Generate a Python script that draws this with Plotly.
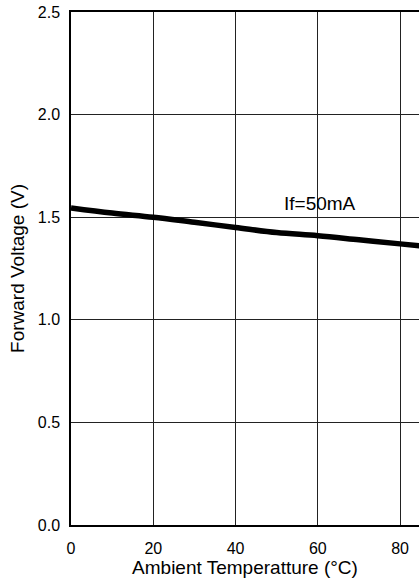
import plotly.graph_objects as go

temps = [0, 10, 20, 30, 40, 50, 60, 70, 80, 85]
vf = [1.545, 1.52, 1.50, 1.475, 1.45, 1.425, 1.41, 1.39, 1.37, 1.36]
x_ticks = [0, 20, 40, 60, 80]
y_ticks = [0.0, 0.5, 1.0, 1.5, 2.0, 2.5]
label_text = "If=50mA"

FONT = "Liberation Sans, Arial, sans-serif"

fig = go.Figure()
fig.add_trace(go.Scatter(x=temps, y=vf, mode="lines",
                         line=dict(color="black", width=5.5, shape="spline"),
                         showlegend=False))
fig.add_annotation(x=60.5, y=1.565, text=label_text, showarrow=False,
                   font=dict(size=19, color="black", family=FONT))

fig.update_layout(
    width=419, height=582,
    margin=dict(l=71, r=0, t=12, b=57),
    paper_bgcolor="white", plot_bgcolor="white",
    font=dict(family=FONT, size=16, color="black"),
)
fig.update_xaxes(range=[0, 84.6], tickvals=x_ticks, showgrid=True, gridcolor="#222",
                 gridwidth=1, showline=True, linecolor="black", linewidth=1.5, mirror=True,
                 zeroline=False, ticks="", ticklabelstandoff=8,
                 title=dict(text="Ambient Temperatture (°C)", standoff=2, font=dict(size=19)),
                 tickfont=dict(size=16))
fig.update_yaxes(range=[0, 2.5], tickvals=y_ticks, tickformat=".1f", showgrid=True,
                 gridcolor="#222", gridwidth=1, showline=True, linecolor="black", linewidth=1.5,
                 zeroline=False, ticks="", ticklabelstandoff=6,
                 title=dict(text="Forward Voltage (V)", standoff=8, font=dict(size=19)),
                 tickfont=dict(size=16))

fig.write_html("out.html", config={"displayModeBar": False},
               post_script="document.body.style.margin='0';document.body.style.overflow='hidden';")
